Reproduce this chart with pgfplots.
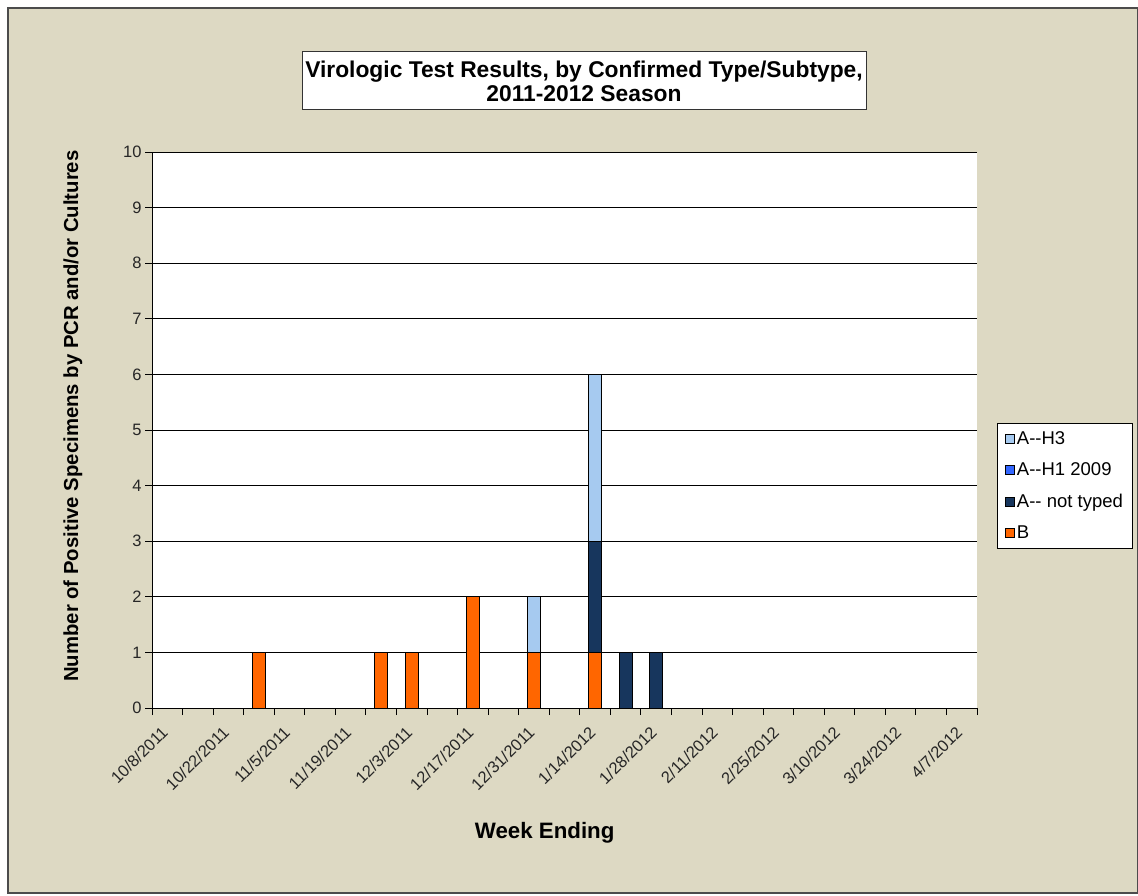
\documentclass[border=0pt]{standalone}
\usepackage{pgfplots}
\pgfplotsset{compat=1.18}
\usepackage{fontspec}
\setmainfont{Liberation Sans}
\definecolor{bg}{HTML}{DDD9C3}
\definecolor{hthree}{HTML}{A6CAF0}
\definecolor{hone}{HTML}{3366FF}
\definecolor{nottyped}{HTML}{17365D}
\definecolor{typeb}{HTML}{FF6600}
\newcommand{\tlfont}{\fontsize{16.5}{19}\selectfont}
\begin{document}
\begin{tikzpicture}[x=1pt,y=1pt]
\useasboundingbox (0,0) rectangle (1138,895);
\fill[white] (0,0) rectangle (1138,895);
\filldraw[fill=bg, draw=black!70, line width=1.2pt] (8,2) rectangle (1137.4,887);
\begin{axis}[
  at={(152pt,187pt)}, anchor=south west,
  scale only axis, width=825pt, height=556pt,
  xmin=-0.5, xmax=26.5, ymin=0, ymax=10,
  axis background/.style={fill=white},
  axis x line*=bottom, axis y line*=left,
  axis line style={-, black, line width=0.8pt},
  ytick={0,...,10},
  xtick={0,2,...,26},
  xticklabels={10/8/2011,10/22/2011,11/5/2011,11/19/2011,12/3/2011,12/17/2011,12/31/2011,1/14/2012,1/28/2012,2/11/2012,2/25/2012,3/10/2012,3/24/2012,4/7/2012},
  minor xtick={-0.5,0.5,...,26.5},
  major x tick style={draw=none},
  minor x tick style={black, line width=0.8pt},
  y tick style={black, line width=0.8pt},
  tick align=outside,
  major tick length=7pt, minor tick length=7pt,
  ymajorgrids, major grid style={black, line width=0.8pt},
  /pgf/number format/assume math mode=true,
  tick label style={font=\tlfont, text=black!85},
  xticklabel shift=12pt,
  xticklabel style={rotate=45, anchor=east},
  ylabel={Number of Positive Specimens by PCR and/or Cultures},
  ylabel style={font=\bfseries\fontsize{20.3}{24}\selectfont, at={(axis description cs:-0.0958,0.525)}, anchor=center},
  xlabel={Week Ending},
  xlabel style={font=\bfseries\fontsize{22.3}{26}\selectfont, at={(axis description cs:0.476,-0.2248)}, anchor=center},
  ybar stacked, bar width=13pt,
  every axis plot/.append style={draw=black, line width=0.8pt},
  reverse legend,
  legend cell align=left,
  legend image code/.code={\draw[#1, draw=black, line width=0.6pt] (0pt,-4.5pt) rectangle (9pt,4.5pt);},
  legend style={at={(1.0242,0.5126)}, anchor=north west, draw=black, line width=0.8pt, fill=white,
    font=\fontsize{18.5}{21}\selectfont, row sep=13pt, inner xsep=8pt, inner ysep=6pt,
    /tikz/every even column/.append style={column sep=4pt}},
]
\addplot[fill=typeb] coordinates {(3,1) (7,1) (8,1) (10,2) (12,1) (14,1) (15,0) (16,0)};
\addlegendentry{B}
\addplot[fill=nottyped] coordinates {(3,0) (7,0) (8,0) (10,0) (12,0) (14,2) (15,1) (16,1)};
\addlegendentry{A-{}- not typed}
\addlegendimage{fill=hone}
\addlegendentry{A-{}-H1 2009}
\addplot[fill=hthree] coordinates {(3,0) (7,0) (8,0) (10,0) (12,1) (14,3) (15,0) (16,0)};
\addlegendentry{A-{}-H3}
\end{axis}
\node[draw=black!80, fill=white, line width=1pt, minimum width=564pt, minimum height=58pt, inner sep=0pt,
  align=center, font=\bfseries\fontsize{22.8}{24}\selectfont] at (584,814)
  {Virologic Test Results, by Confirmed Type/Subtype,\\2011-2012 Season};
\end{tikzpicture}
\end{document}
